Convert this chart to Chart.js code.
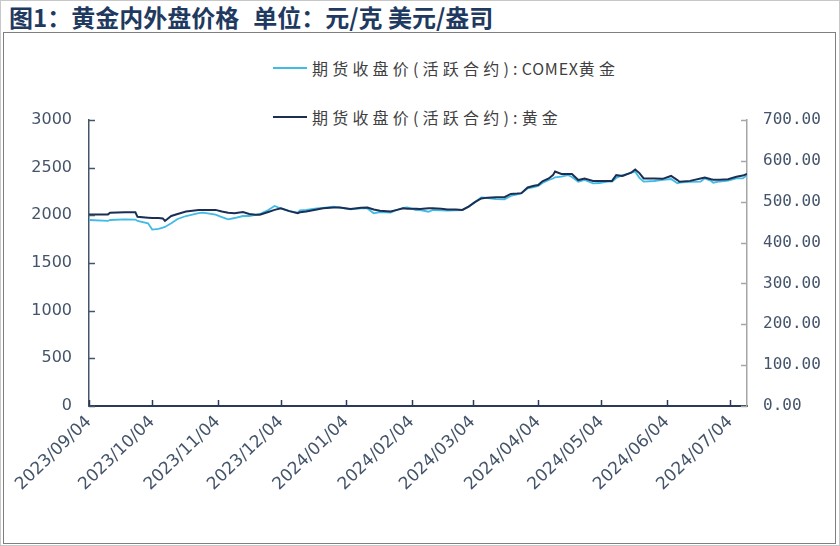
<!DOCTYPE html>
<html>
<head>
<meta charset="utf-8">
<script src="https://cdn.jsdelivr.net/npm/chart.js@4.4.1/dist/chart.umd.min.js"></script>
<style>
  html, body { margin: 0; padding: 0; background: #fff; }
  body { width: 840px; height: 546px; position: relative; overflow: hidden; font-family: "Noto Sans CJK SC", sans-serif; }
  #frame { position: absolute; left: 0; top: 0; width: 838px; height: 544px; border: 1px solid #c8c8c8; }
  #box { position: absolute; left: 3px; top: 32px; width: 831px; height: 510px; border: 1.5px solid #7f7f7f; }
  #title { position: absolute; left: 9px; top: 2px; font-size: 24px; font-weight: bold; color: #1f3a60; line-height: 30px; white-space: nowrap; }
  #title span { margin-left: 14px; }
  .leg { position: absolute; left: 273px; height: 20px; display: flex; align-items: center; white-space: nowrap; }
  .leg i { display: inline-block; width: 34px; height: 2px; margin-right: 5px; }
  .leg span { font-size: 16px; letter-spacing: 4.2px; color: #404040; }
  .leg span b { font-weight: normal; letter-spacing: 0.8px; }
  canvas { position: absolute; left: 0; top: 0; }
</style>
</head>
<body>
<div id="frame"></div>
<div id="box"></div>
<div id="title">图1：黄金内外盘价格<span>单位：元/克 美元/盎司</span></div>
<div id="legend"></div>
<canvas id="chart" width="840" height="546"></canvas>
<script>
// Data
const dates = [
  '2023-09-04','2023-09-13','2023-09-14','2023-09-21','2023-09-26','2023-09-27','2023-10-02','2023-10-04',
  '2023-10-07','2023-10-09','2023-10-10','2023-10-13','2023-10-16','2023-10-20','2023-10-26','2023-10-28',
  '2023-11-03','2023-11-06','2023-11-09','2023-11-12','2023-11-16','2023-11-19','2023-11-22','2023-11-24',
  '2023-11-28','2023-12-01','2023-12-04','2023-12-08','2023-12-12','2023-12-13','2023-12-16','2023-12-21',
  '2023-12-24','2023-12-29','2024-01-01','2024-01-06','2024-01-11','2024-01-14','2024-01-17','2024-01-20',
  '2024-01-25','2024-01-28','2024-01-31','2024-02-02','2024-02-06','2024-02-08','2024-02-12','2024-02-14',
  '2024-02-18','2024-02-21','2024-02-25','2024-02-28','2024-03-02','2024-03-05','2024-03-08','2024-03-11',
  '2024-03-15','2024-03-19','2024-03-22','2024-03-25','2024-03-27','2024-03-30','2024-04-02','2024-04-04',
  '2024-04-06','2024-04-09','2024-04-11','2024-04-12','2024-04-15','2024-04-18','2024-04-20','2024-04-23',
  '2024-04-26','2024-04-30','2024-05-03','2024-05-07','2024-05-09','2024-05-11','2024-05-14','2024-05-18',
  '2024-05-20','2024-05-22','2024-05-24','2024-05-29','2024-06-02','2024-06-06','2024-06-09','2024-06-10',
  '2024-06-15','2024-06-20','2024-06-22','2024-06-25','2024-06-26','2024-06-29','2024-07-03','2024-07-07',
  '2024-07-10','2024-07-12'
];

// COMEX gold, USD/oz (left axis)
const comexGold = [
  1951,1941,1951,1958,1956,1941,1916,1851, 1857,1872,1878,1916,1962,1993,2024,2028,
  2007,1982,1958,1972,1993,1993,2004,2014, 2056,2098,2072,2045,2028,2051,2056,2074,
  2077,2091,2082,2063,2072,2072,2021,2035, 2030,2056,2077,2084,2056,2056,2038,2056,
  2051,2049,2051,2056,2091,2140,2189,2182, 2171,2168,2203,2219,2231,2284,2297,2308,
  2339,2371,2386,2399,2405,2423,2402,2353, 2371,2336,2339,2353,2353,2392,2423,2444,
  2458,2392,2353,2360,2371,2381,2336,2344, 2350,2353,2388,2360,2342,2355,2365,2388,
  2388,2423
];

// SHFE gold, CNY/g (right axis)
const shfeGold = [
  469,469,473,474,474,463,461,460, 460,459,453,465,470,476,480,480,
  480,476,473,472,475,470,468,468, 475,480,484,477,472,474,476,481,
  484,486,486,482,485,486,481,478, 476,480,484,483,483,482,484,484,
  483,481,481,480,488,499,508,510, 511,511,519,520,521,535,539,541,
  550,557,565,574,568,568,568,553, 557,551,551,551,551,565,563,571,
  579,570,557,557,556,563,553,549, 551,557,559,555,554,554,555,561,
  564,568
];

const tickDates = ['2023-09-04','2023-10-04','2023-11-04','2023-12-04','2024-01-04','2024-02-04',
  '2024-03-04','2024-04-04','2024-05-04','2024-06-04','2024-07-04'];

const seriesNames = ['期货收盘价(活跃合约):COMEX黄金', '期货收盘价(活跃合约):黄金'];
const seriesColors = ['#3fbbe6', '#1b2f55'];

const startDay = Date.UTC(2023, 8, 4);
function dayOf(s) {
  const p = s.split('-');
  return (Date.UTC(+p[0], +p[1] - 1, +p[2]) - startDay) / 86400000;
}

// HTML legend, two rows; latin letters set tighter than the CJK text
const legend = document.getElementById('legend');
[58, 107].forEach((top, i) => {
  const div = document.createElement('div');
  div.className = 'leg';
  div.style.top = top + 'px';
  const txt = seriesNames[i].replace(/([A-Z]+)/g, '<b>$1</b>');
  div.innerHTML = `<i style="background:${seriesColors[i]}"></i><span>${txt}</span>`;
  legend.appendChild(div);
});

// tick marks drawn pointing into the plot
const innerTicks = {
  id: 'innerTicks',
  afterDraw(chart) {
    const c = chart.ctx;
    const { x, yL, yR } = chart.scales;
    c.save();
    c.lineWidth = 1.5;
    c.strokeStyle = '#2b3a58';
    x.ticks.forEach(t => {
      const px = Math.round(x.getPixelForValue(t.value)) + 0.5;
      c.beginPath(); c.moveTo(px, x.top); c.lineTo(px, x.top - 6); c.stroke();
    });
    c.strokeStyle = '#44546a';
    yL.ticks.forEach(t => {
      const py = Math.round(yL.getPixelForValue(t.value)) + 0.5;
      c.beginPath(); c.moveTo(yL.right, py); c.lineTo(yL.right + 6, py); c.stroke();
    });
    c.strokeStyle = '#a6a6a6';
    yR.ticks.forEach(t => {
      const py = Math.round(yR.getPixelForValue(t.value)) + 0.5;
      c.beginPath(); c.moveTo(yR.left, py); c.lineTo(yR.left - 6, py); c.stroke();
    });
    c.restore();
  }
};

const ctx = document.getElementById('chart').getContext('2d');
new Chart(ctx, {
  type: 'line',
  data: {
    datasets: [{
      label: seriesNames[0],
      data: dates.map((d, i) => ({ x: dayOf(d), y: comexGold[i] })),
      yAxisID: 'yL',
      borderColor: seriesColors[0],
      borderWidth: 1.8,
      pointRadius: 0,
      tension: 0,
      order: 2
    }, {
      label: seriesNames[1],
      data: dates.map((d, i) => ({ x: dayOf(d), y: shfeGold[i] })),
      yAxisID: 'yR',
      borderColor: seriesColors[1],
      borderWidth: 2,
      pointRadius: 0,
      tension: 0,
      order: 1
    }]
  },
  options: {
    responsive: false,
    animation: false,
    layout: { padding: { top: 120, left: 0, right: 0, bottom: 0 } },
    plugins: { legend: { display: false }, tooltip: { enabled: false } },
    scales: {
      x: {
        type: 'linear',
        min: 0,
        max: 312,
        afterBuildTicks: s => { s.ticks = tickDates.map(d => ({ value: dayOf(d) })); },
        afterFit: s => { s.height = 140; },
        ticks: {
          autoSkip: false,
          minRotation: 44,
          maxRotation: 44,
          padding: 6,
          color: '#44546a',
          font: { family: 'DejaVu Sans', size: 17 },
          callback: v => {
            const i = tickDates.findIndex(d => dayOf(d) === v);
            return i < 0 ? '' : tickDates[i].replace(/-/g, '/');
          }
        },
        grid: { display: false, drawTicks: false },
        border: { color: '#2b3a58', width: 2 }
      },
      yL: {
        position: 'left',
        min: 0,
        max: 3000,
        afterFit: s => { s.width = 89; },
        ticks: {
          stepSize: 500,
          padding: 17,
          color: '#44546a',
          font: { family: 'DejaVu Sans', size: 16 },
          callback: v => String(v)
        },
        grid: { display: false, drawTicks: false },
        border: { color: '#44546a', width: 1.5 }
      },
      yR: {
        position: 'right',
        min: 0,
        max: 700,
        afterFit: s => { s.width = 93; },
        ticks: {
          stepSize: 100,
          padding: 16,
          color: '#44546a',
          font: { family: 'DejaVu Sans Mono', size: 16 },
          callback: v => v.toFixed(2)
        },
        grid: { display: false, drawTicks: false },
        border: { color: '#a6a6a6', width: 1.5 }
      }
    }
  },
  plugins: [innerTicks]
});
</script>
</body>
</html>
